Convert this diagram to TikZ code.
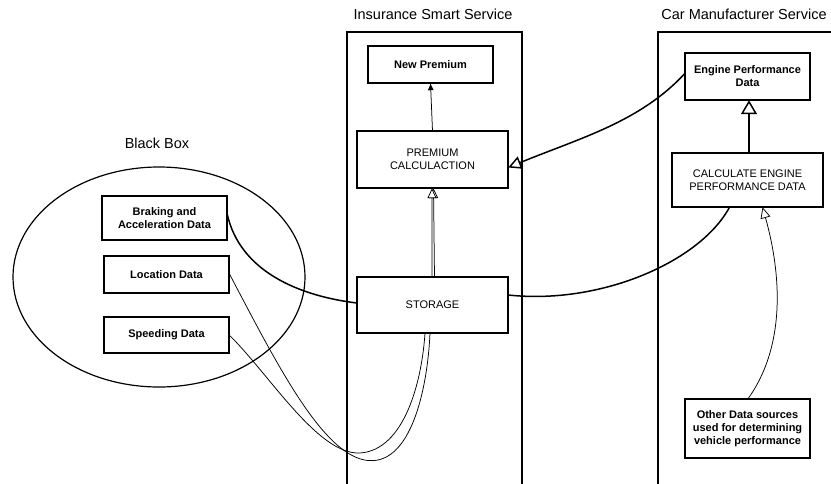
\documentclass[tikz,border=0pt]{standalone}
\usepackage{fontspec}
\setmainfont{Liberation Sans}
\usetikzlibrary{arrows.meta}
\begin{document}
\begin{tikzpicture}[x=1pt,y=-1pt,
  frame/.style={draw,line width=1.3pt},
  boxbold/.style={draw,fill=white,line width=1.3pt,align=center,
    font=\fontsize{11}{13}\selectfont\bfseries,inner sep=1pt},
  boxplain/.style={draw,fill=white,line width=1.3pt,align=center,
    font=\fontsize{11}{13.5}\selectfont,inner sep=1pt},
  title/.style={font=\fontsize{14.5}{16}\selectfont},
  thick link/.style={line width=1.5pt},
  thin link/.style={line width=0.75pt},
  openhead/.style={-{Triangle[open,fill=white,length=#1]}},
]
\useasboundingbox (0,0) rectangle (831,483);
\clip (0,0) rectangle (831,483);

% group titles
\node[title] (tins) at (433,14) {Insurance Smart Service};
\node[title] (tcar) at (744,14) {Car Manufacturer Service};
\node[title] (tbb)  at (157,143) {Black Box};

% service frames and black box outline
\draw[frame] (347,32) rectangle (522,495);
\draw[frame] (658,32) rectangle (845,495);
\draw[line width=1.2pt] (159,277) ellipse [x radius=146, y radius=110];

% box centres
\path
  (430.5,64.5) coordinate (cnewp)
  (432.5,159.5) coordinate (ccalc)
  (432.5,305)  coordinate (cstor)
  (747.5,76.5) coordinate (ceng)
  (747.5,180)  coordinate (ccalceng)
  (747.5,428.5) coordinate (cother)
  (164.5,218)  coordinate (cbrake)
  (166.5,274.5) coordinate (cloc)
  (166.5,335)  coordinate (cspeed);

% invisible shapes to anchor the links
\node[minimum width=125,minimum height=37] (newp) at (cnewp) {};
\node[minimum width=151,minimum height=57] (calc) at (ccalc) {};
\node[minimum width=151,minimum height=56] (stor) at (cstor) {};
\node[minimum width=125,minimum height=47] (eng) at (ceng) {};
\node[minimum width=151,minimum height=54] (calceng) at (ccalceng) {};
\node[minimum width=125,minimum height=59] (other) at (cother) {};
\node[minimum width=125,minimum height=44] (brake) at (cbrake) {};
\node[minimum width=125,minimum height=37] (loc) at (cloc) {};
\node[minimum width=125,minimum height=36] (speed) at (cspeed) {};

% links
\draw[thin link,-{Latex[length=7pt,width=6pt]}] (calc.north) -- (newp.south);
\draw[thin link,openhead={10pt,width=9pt}]
  ([yshift=1pt]loc.east) .. controls (280,370) and (330,470) .. (378,460)
  .. controls (415,452) and (428,380) .. (430,333)
  -- (434.5,277) -- ([xshift=1pt]calc.south);
\draw[thin link,openhead={10pt,width=9pt}]
  (speed.east) .. controls (270,375) and (318,455) .. (360,453)
  .. controls (405,450) and (422,380) .. (425,333)
  -- (432,277) -- ([xshift=-0.5pt]calc.south);
\draw[thick link] ([yshift=4pt]brake.east) .. controls (240,272) and (300,296) .. ([yshift=2pt]stor.west);
\draw[thick link] ([yshift=10pt]stor.east) .. controls (600,305) and (700,262) .. ([xshift=-18pt]calceng.south);
\draw[thick link,openhead={13pt,width=13pt}]
  ([yshift=3pt]eng.west) .. controls (640,122) and (580,138) .. ([yshift=-8pt]calc.east);
\draw[thick link,openhead={14pt,width=16pt}] ([xshift=1.5pt]calceng.north) -- ([xshift=1.5pt]eng.south);
\draw[thin link,openhead={11pt,width=10pt}]
  ([xshift=0.5pt]other.north) .. controls (790,340) and (778,262) .. ([xshift=15pt]calceng.south);

% boxes
\node[boxbold,minimum width=125,minimum height=37] at (cnewp) {New Premium};
\node[boxplain,minimum width=151,minimum height=57] at (ccalc) {PREMIUM\\CALCULACTION};
\node[boxplain,minimum width=151,minimum height=56] at (cstor) {STORAGE};
\node[boxbold,minimum width=125,minimum height=47] at (ceng) {Engine Performance\\Data};
\node[boxplain,minimum width=151,minimum height=54] at (ccalceng) {CALCULATE ENGINE\\PERFORMANCE DATA};
\node[boxbold,minimum width=125,minimum height=59] at (cother) {Other Data sources\\used for determining\\vehicle performance};
\node[boxbold,minimum width=125,minimum height=44] at (cbrake) {Braking and\\Acceleration Data};
\node[boxbold,minimum width=125,minimum height=37] at (cloc) {Location Data};
\node[boxbold,minimum width=125,minimum height=36] at (cspeed) {Speeding Data};
\end{tikzpicture}
\end{document}
